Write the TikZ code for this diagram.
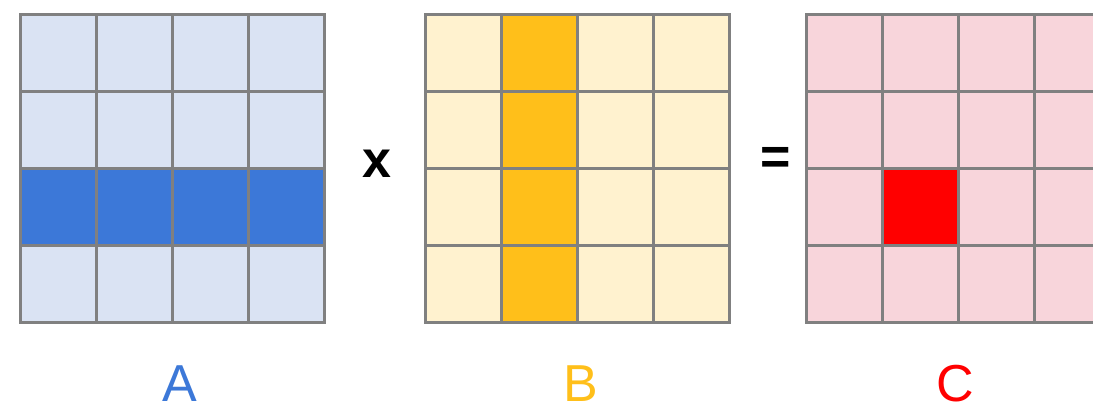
\documentclass[tikz,border=0pt]{standalone}
\usepackage{fontspec}
\setmainfont{Liberation Sans}
\usepackage{xcolor}
\usetikzlibrary{positioning}
\definecolor{gridgray}{HTML}{808080}
\definecolor{lightA}{HTML}{DAE3F3}
\definecolor{darkA}{HTML}{3C78D8}
\definecolor{lightB}{HTML}{FFF2CF}
\definecolor{darkB}{HTML}{FFBF1A}
\definecolor{lightC}{HTML}{F8D5DB}
\definecolor{darkC}{HTML}{FF0000}
\tikzset{gridline/.style={draw=gridgray, line width=3pt, line cap=rect},
    matname/.style={anchor=base, font=\fontsize{52}{60}\selectfont},
    opsign/.style={font=\fontsize{52}{60}\selectfont\bfseries}}

\begin{document}
\begin{tikzpicture}[
    x=1pt, y=-1pt,
    every node/.style={inner sep=0pt}
  ]
  \useasboundingbox (0,0) rectangle (1093,405);
  \clip (0,0) rectangle (1093,405);

  % Matrix backgrounds
  \fill[lightA] (20,14) rectangle (324,322);
  \fill[lightB] (425,14) rectangle (729,322);
  \fill[lightC] (806,14) rectangle (1110,322);

  % Row of A, column of B, entry of C
  \fill[darkA] (20,168) rectangle (324,245);
  \fill[darkB] (501,14) rectangle (577,322);
  \fill[darkC] (882,168) rectangle (958,245);

  % Grid lines
  \foreach \x in {20,425,806} {
    \foreach \k in {0,...,4} {
      \draw[gridline] (\x+76*\k,14) -- (\x+76*\k,322);
      \draw[gridline] (\x,14+77*\k) -- (\x+304,14+77*\k);
    }
  }

  % Operators
  \node[opsign] (times) at (377,164) {x};
  \node[opsign] (equals) at (776,161) {=};

  % Labels
  \node[matname, text=darkA] (labA) at (180,401) {A};
  \node[matname, text=darkB] (labB) at (581,401) {B};
  \node[matname, text=darkC] (labC) at (955,401) {C};
\end{tikzpicture}
\end{document}
